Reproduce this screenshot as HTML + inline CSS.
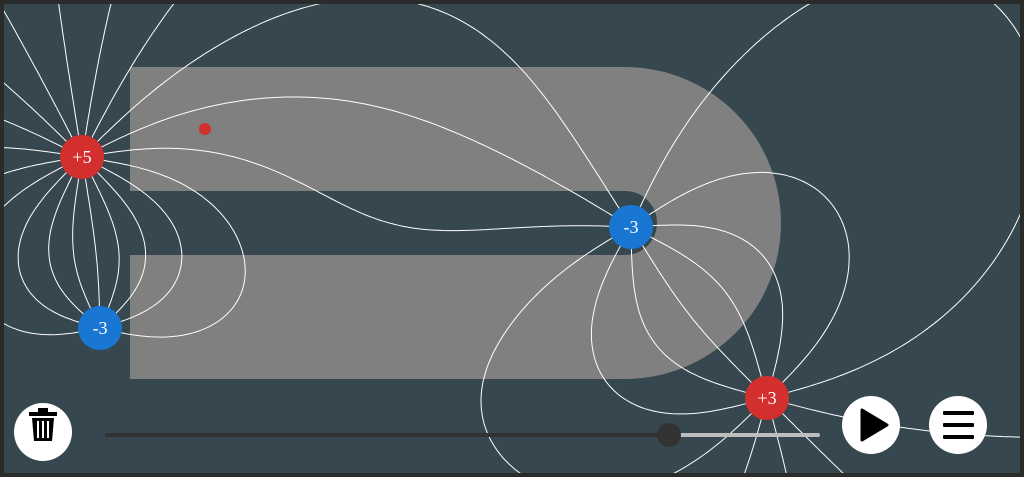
<!DOCTYPE html>
<html><head><meta charset="utf-8"><style>
html,body{margin:0;padding:0;background:#2b2b2b;width:1024px;height:477px;overflow:hidden}
svg{display:block}
</style></head><body>
<svg id="s" width="1024" height="477" viewBox="0 0 1024 477">
<rect x="0" y="0" width="1024" height="477" fill="#37474f"/>
<path d="M130,129 L625,129 A94,94 0 0 1 625,317 L130,317" fill="none" stroke="#808080" stroke-width="124"/>
<g id="lines"></g>
<rect x="0" y="0" width="1024" height="477" fill="none" stroke="#2b2b2b" stroke-width="8"/>
<circle cx="205" cy="129" r="6" fill="#d32f2f"/>
<g id="charges"></g>
<g>
<circle cx="43" cy="432" r="29" fill="#fff"/>
<rect x="29" y="412" width="28" height="4" fill="#000"/>
<rect x="38" y="408" width="10" height="5" fill="#000"/>
<path d="M32,418 L54,418 L52,441 L34,441 Z" fill="#000"/>
<rect x="37" y="421" width="2" height="17" fill="#fff"/><rect x="42" y="421" width="2" height="17" fill="#fff"/><rect x="47" y="421" width="2" height="17" fill="#fff"/>
</g>
<g>
<line x1="107" y1="435" x2="669" y2="435" stroke="#333" stroke-width="4" stroke-linecap="round"/>
<line x1="669" y1="435" x2="818" y2="435" stroke="#bdbdbd" stroke-width="4" stroke-linecap="round"/>
<circle cx="669" cy="435" r="12" fill="#333"/>
</g>
<g>
<circle cx="871" cy="425" r="29" fill="#fff"/>
<path d="M862,410 L862,440 L887,425 Z" fill="#000" stroke="#000" stroke-width="3" stroke-linejoin="round"/>
</g>
<g>
<circle cx="958" cy="425" r="29" fill="#fff"/>
<rect x="943" y="411" width="31" height="4" rx="1" fill="#000"/>
<rect x="943" y="423" width="31" height="4" rx="1" fill="#000"/>
<rect x="943" y="435" width="31" height="4" rx="1" fill="#000"/>
</g>
</svg>
<script>
const chargeValues=[5,-3,-3,3];
const chargeX=[82,100,631,767];
const chargeY=[157,328,227,398];
const NS="http://www.w3.org/2000/svg";
const linesG=document.getElementById('lines');
const chG=document.getElementById('charges');
function field(x,y){let ex=0,ey=0;for(let i=0;i<chargeValues.length;i++){const dx=x-chargeX[i],dy=y-chargeY[i];const r2=dx*dx+dy*dy;const r3=r2*Math.sqrt(r2)+1e-9;ex+=chargeValues[i]*dx/r3;ey+=chargeValues[i]*dy/r3;}return [ex,ey];}
function cl(v,lo,hi){return Math.min(hi,Math.max(lo,v));}
for(let i=0;i<chargeValues.length;i++){
  if(chargeValues[i]<=0)continue;
  const n=chargeValues[i]*4;
  for(let k=0;k<n;k++){
    const a=(k+0.5)/n*2*Math.PI;
    let x=chargeX[i]+22*Math.cos(a),y=chargeY[i]+22*Math.sin(a);
    let d="M"+x.toFixed(1)+","+y.toFixed(1);
    for(let s=0;s<4000;s++){
      const [ex,ey]=field(x,y);const m=Math.hypot(ex,ey)||1;
      x+=2*ex/m;y+=2*ey/m;
      if(s%2==0)d+=" L"+cl(x,1,1023).toFixed(1)+","+cl(y,1,476).toFixed(1);
      let stop=false;
      for(let j=0;j<chargeValues.length;j++){if(chargeValues[j]<0&&Math.hypot(x-chargeX[j],y-chargeY[j])<20){stop=true;}}
      if(stop||x<-60||x>1084||y<-60||y>537)break;
    }
    const p=document.createElementNS(NS,'path');
    p.setAttribute('d',d);p.setAttribute('fill','none');p.setAttribute('stroke','#fff');p.setAttribute('stroke-width','1');
    
    
    linesG.appendChild(p);
  }
}
for(let i=0;i<chargeValues.length;i++){
  const g=document.createElementNS(NS,'g');
  
  
  const c=document.createElementNS(NS,'circle');
  c.setAttribute('cx',chargeX[i]);c.setAttribute('cy',chargeY[i]);c.setAttribute('r',22);
  c.setAttribute('fill',chargeValues[i]>0?'#d32f2f':'#1976d2');
  const t=document.createElementNS(NS,'text');
  t.setAttribute('x',chargeX[i]);t.setAttribute('y',chargeY[i]+6);t.setAttribute('text-anchor','middle');
  t.setAttribute('fill','#fff');t.setAttribute('font-family','Liberation Serif, serif');t.setAttribute('font-size','18');
  t.textContent=(chargeValues[i]>0?'+':'')+chargeValues[i];
  
  
  g.appendChild(c);g.appendChild(t);chG.appendChild(g);
}
</script>
</body></html>
